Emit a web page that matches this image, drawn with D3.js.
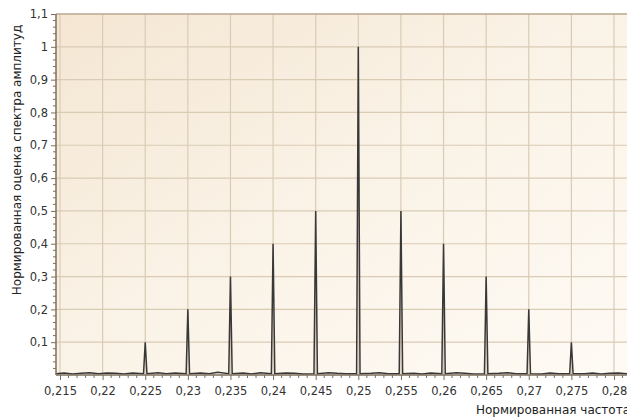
<!DOCTYPE html>
<html>
<head>
<meta charset="utf-8">
<script src="https://cdn.jsdelivr.net/npm/d3@7"></script>
<style>
  body { margin: 0; background: #ffffff; }
  svg { display: block; font-family: "DejaVu Sans", Verdana, sans-serif; }
</style>
</head>
<body>
<div id="chart"></div>
<script>
// Spectral lines: frequency and amplitude of each peak
const peakFreqs = [0.225, 0.23, 0.235, 0.24, 0.245, 0.25, 0.255, 0.26, 0.265, 0.27, 0.275];
const peakAmps  = [0.1,   0.2,  0.3,   0.4,  0.5,   1.0,  0.5,   0.4,  0.3,   0.2,  0.1];

// Noise floor between the peaks
const floorFreqs = [0.2145, 0.2155, 0.2165, 0.2175, 0.2185, 0.2195, 0.2205, 0.2215, 0.2225, 0.2235,
                    0.2245, 0.2255, 0.2265, 0.2275, 0.2285, 0.2295, 0.2305, 0.2315, 0.2325, 0.2335,
                    0.2345, 0.2355, 0.2365, 0.2375, 0.2385, 0.2395, 0.2405, 0.2415, 0.2425, 0.2435,
                    0.2445, 0.2455, 0.2465, 0.2475, 0.2485, 0.2495, 0.2505, 0.2515, 0.2525, 0.2535,
                    0.2545, 0.2555, 0.2565, 0.2575, 0.2585, 0.2595, 0.2605, 0.2615, 0.2625, 0.2635,
                    0.2645, 0.2655, 0.2665, 0.2675, 0.2685, 0.2695, 0.2705, 0.2715, 0.2725, 0.2735,
                    0.2745, 0.2755, 0.2765, 0.2775, 0.2785, 0.2795, 0.2805, 0.2815, 0.2825];
const floorAmps  = [0.004, 0.006, 0.003, 0.005, 0.007, 0.004, 0.006, 0.005, 0.003, 0.006,
                    0.004, 0.005, 0.007, 0.004, 0.006, 0.003, 0.005, 0.006, 0.004, 0.008,
                    0.005, 0.004, 0.006, 0.003, 0.007, 0.005, 0.004, 0.006, 0.005, 0.003,
                    0.006, 0.004, 0.007, 0.005, 0.004, 0.006, 0.003, 0.005, 0.007, 0.004,
                    0.006, 0.004, 0.005, 0.003, 0.006, 0.005, 0.004, 0.007, 0.005, 0.003,
                    0.006, 0.004, 0.005, 0.007, 0.004, 0.006, 0.005, 0.003, 0.006, 0.004,
                    0.005, 0.007, 0.004, 0.006, 0.003, 0.005, 0.006, 0.004, 0.005];
const peakBase = 0.004;   // amplitude at the foot of each peak
const peakHalfWidth = 0.0002;

// Axis ticks
const xTicks = [0.215, 0.22, 0.225, 0.23, 0.235, 0.24, 0.245, 0.25, 0.255, 0.26, 0.265, 0.27, 0.275, 0.28];
const yTicks = [0.1, 0.2, 0.3, 0.4, 0.5, 0.6, 0.7, 0.8, 0.9, 1, 1.1];

const xTitle = 'Нормированная частота';
const yTitle = 'Нормированная оценка спектра амплитуд';

function render() {
    const W = 627, H = 417;
    const plot = { left: 56, right: 640, top: 14, bottom: 375 };

    const svg = d3.select('#chart').append('svg')
        .attr('width', W)
        .attr('height', H);

    // scales
    const x = d3.scaleLinear().domain([0.215, 0.28]).range([60, 614]);
    const y = d3.scaleLinear().domain([0, 1.1]).range([plot.bottom, plot.top]);

    // background gradient
    const defs = svg.append('defs');
    const grad = defs.append('linearGradient')
        .attr('id', 'bg')
        .attr('x1', '0%').attr('y1', '0%')
        .attr('x2', '100%').attr('y2', '100%');
    grad.append('stop').attr('offset', '0%').attr('stop-color', '#f4e6d2');
    grad.append('stop').attr('offset', '45%').attr('stop-color', '#faf2e6');
    grad.append('stop').attr('offset', '100%').attr('stop-color', '#fefbf5');

    svg.append('rect')
        .attr('x', plot.left).attr('y', plot.top)
        .attr('width', plot.right - plot.left)
        .attr('height', plot.bottom - plot.top)
        .attr('fill', 'url(#bg)');

    // grid
    svg.append('g').selectAll('line')
        .data(xTicks)
        .join('line')
        .attr('x1', d => x(d)).attr('x2', d => x(d))
        .attr('y1', plot.top).attr('y2', plot.bottom)
        .attr('stroke', '#dacbb5')
        .attr('stroke-width', 1.2);

    svg.append('g').selectAll('line')
        .data(yTicks)
        .join('line')
        .attr('x1', plot.left).attr('x2', plot.right)
        .attr('y1', d => y(d)).attr('y2', d => y(d))
        .attr('stroke', d => d === 1.1 ? '#bba78e' : '#dacbb5')
        .attr('stroke-width', d => d === 1.1 ? 1.6 : 1.2);

    // spectrum line
    const pts = floorFreqs.map((f, i) => [f, floorAmps[i]])
        .filter(p => !peakFreqs.some(pf => Math.abs(pf - p[0]) < 0.0006));
    peakFreqs.forEach((f, i) => {
        pts.push([f - peakHalfWidth, peakBase]);
        pts.push([f, peakAmps[i]]);
        pts.push([f + peakHalfWidth, peakBase]);
    });
    pts.sort((a, b) => a[0] - b[0]);

    svg.append('path')
        .datum(pts)
        .attr('fill', 'none')
        .attr('stroke', '#383838')
        .attr('stroke-width', 1.5)
        .attr('stroke-linejoin', 'miter')
        .attr('d', d3.line().x(d => x(d[0])).y(d => y(d[1])));

    // axes
    const fmt = v => String(+v.toFixed(3)).replace('.', ',');
    const axisColor = '#7d6f5c';

    const xAxis = svg.append('g')
        .attr('transform', `translate(0,${plot.bottom})`)
        .call(d3.axisBottom(x).tickValues(xTicks).tickFormat(fmt).tickSize(5).tickSizeOuter(0));
    xAxis.select('.domain').remove();
    // minor x ticks
    svg.append('g').selectAll('line')
        .data(d3.range(0.215, 0.2815, 0.001).filter(v => !xTicks.some(t => Math.abs(t - v) < 1e-6)))
        .join('line')
        .attr('x1', d => x(d)).attr('x2', d => x(d))
        .attr('y1', plot.bottom).attr('y2', plot.bottom + 3)
        .attr('stroke', axisColor);

    const yAxis = svg.append('g')
        .attr('transform', `translate(${plot.left},0)`)
        .call(d3.axisLeft(y).tickValues(yTicks).tickFormat(fmt).tickSize(5).tickSizeOuter(0));
    yAxis.select('.domain').remove();
    svg.append('g').selectAll('line')
        .data(d3.range(0.02, 1.1, 0.02).filter(v => !yTicks.some(t => Math.abs(t - v) < 1e-6)))
        .join('line')
        .attr('x1', plot.left - 3).attr('x2', plot.left)
        .attr('y1', d => y(d)).attr('y2', d => y(d))
        .attr('stroke', axisColor);

    [xAxis, yAxis].forEach(a => {
        a.selectAll('line').attr('stroke', axisColor);
        a.selectAll('text')
            .attr('fill', '#333')
            .style('font-size', '11.5px')
            .style('font-family', '"DejaVu Sans", Verdana, sans-serif');
    });
    xAxis.selectAll('text').attr('dy', '1.05em');
    yAxis.selectAll('text').attr('x', -8);

    // axis lines
    svg.append('line')
        .attr('x1', plot.left).attr('x2', plot.right)
        .attr('y1', plot.bottom).attr('y2', plot.bottom)
        .attr('stroke', axisColor).attr('stroke-width', 1.5);
    svg.append('line')
        .attr('x1', plot.left).attr('x2', plot.left)
        .attr('y1', plot.top).attr('y2', plot.bottom)
        .attr('stroke', axisColor).attr('stroke-width', 1.5);

    // titles (the x title runs past the right edge, as in the original)
    svg.append('text')
        .attr('x', 476).attr('y', 414)
        .attr('fill', '#222')
        .style('font-size', '12px')
        .text(xTitle);

    svg.append('text')
        .attr('transform', 'translate(21,160) rotate(-90)')
        .attr('text-anchor', 'middle')
        .attr('fill', '#222')
        .style('font-size', '12px')
        .text(yTitle);
}

render();
</script>
</body>
</html>
